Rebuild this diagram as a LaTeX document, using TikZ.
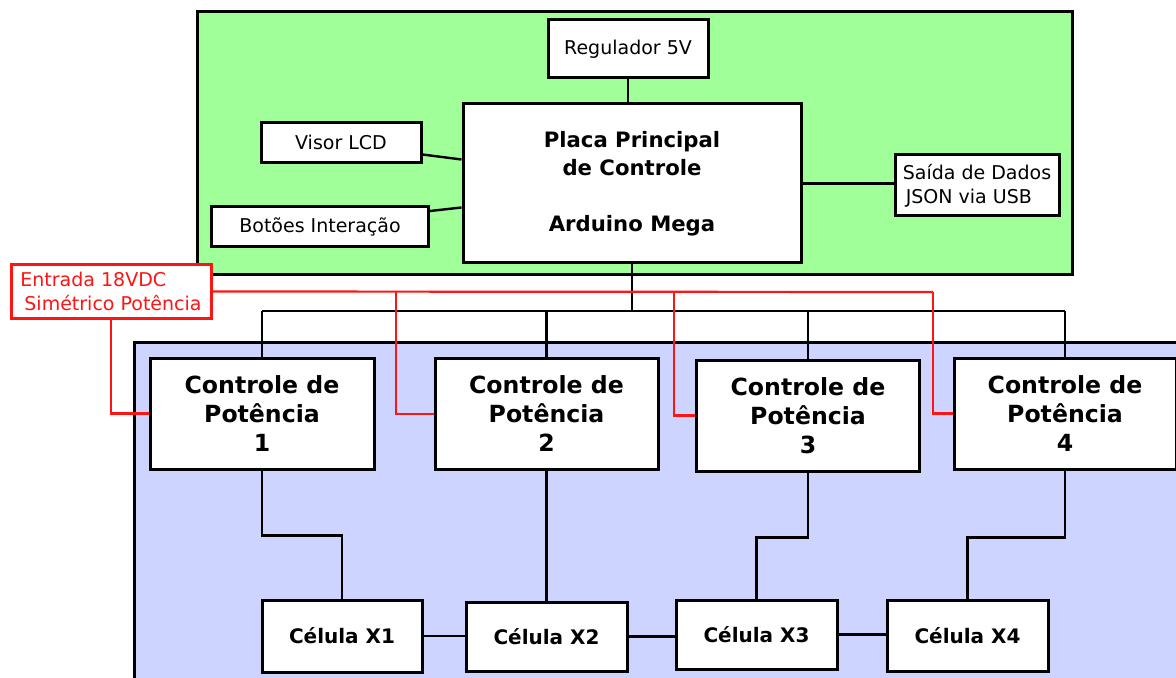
\documentclass[tikz,border=0pt]{standalone}
\usepackage{fontspec}
\setmainfont{DejaVu Sans}
\usepackage{tikz}
\usetikzlibrary{
  positioning,
  calc
}
\definecolor{pcGreen}{HTML}{A0FF98}
\definecolor{pcBlue}{HTML}{CCD4FF}
\definecolor{pcRed}{HTML}{FF1414}
\tikzset{
  pcnode/.style={
    draw, fill=white, line width=1.5pt, inner sep=0pt, align=center,
    font=\fontsize{9.5}{12}\selectfont
  },
  mainboard/.style={pcnode, font=\bfseries\fontsize{10.6}{14}\selectfont},
  powerctl/.style={pcnode, font=\bfseries\fontsize{11.8}{14.5}\selectfont},
  cell/.style={pcnode, font=\bfseries\fontsize{10}{12}\selectfont},
  inputbox/.style={pcnode, draw=pcRed, text=pcRed, align=left},
  zone/.style={draw, line width=1.5pt},
  wire/.style={line width=1.2pt, black},
  redwire/.style={line width=1.1pt, pcRed}
}

\begin{document}
\begin{tikzpicture}[x=0.5pt, y=-0.5pt]
  \useasboundingbox (0,0) rectangle (1176,678);
  \fill[white] (0,0) rectangle (1176,678);
  \draw[zone, fill=pcGreen] (197,12) rectangle (1072,275);
  \draw[zone, fill=pcBlue] (134,342) rectangle (1200,700);

  \node[pcnode, minimum width=80pt, minimum height=29pt] (reg) at (628,49) {Regulador 5V};
  \node[mainboard, minimum width=169pt, minimum height=79.5pt] (placa) at (632,183.5) {Placa Principal\\ de Controle\\[14pt] Arduino Mega};
  \node[pcnode, minimum width=80pt, minimum height=20pt] (visor) at (341,142.5) {Visor LCD};
  \node[pcnode, minimum width=108.5pt, minimum height=20pt] (botoes) at (320,227) {Botões Interação};
  \node[pcnode, align=left, minimum width=82pt, minimum height=30.5pt] (saida) at (977,185.5) {Saída de Dados\\\hspace*{1.5pt}JSON via USB};
  \node[inputbox, minimum width=100pt, minimum height=27pt] (entrada) at (111,291.5) {Entrada 18VDC\\\hspace*{2pt}Simétrico Potência};

  \node[powerctl, minimum width=112pt, minimum height=55.5pt] (ctl1) at (262,413.5) {Controle de\\Potência\\1};
  \node[powerctl, minimum width=111.5pt, minimum height=55.5pt] (ctl2) at (546.5,414) {Controle de\\Potência\\2};
  \node[powerctl, minimum width=111.5pt, minimum height=55.5pt] (ctl3) at (808,415.5) {Controle de\\Potência\\3};
  \node[powerctl, minimum width=111pt, minimum height=55.5pt] (ctl4) at (1065,413.5) {Controle de\\Potência\\4};

  \node[cell, minimum width=80pt, minimum height=36pt] (cell1) at (342,636) {Célula X1};
  \node[cell, minimum width=80.5pt, minimum height=34.5pt] (cell2) at (546.5,636.5) {Célula X2};
  \node[cell, minimum width=80.5pt, minimum height=34.5pt] (cell3) at (756.5,634.5) {Célula X3};
  \node[cell, minimum width=80.5pt, minimum height=35.5pt] (cell4) at (967.5,635.5) {Célula X4};

  \draw[wire] (reg.south) -- (reg.south |- placa.north);
  \draw[wire] ($(visor.east)+(0,12)$) -- ($(placa.west)+(0,-24)$);
  \draw[wire] ($(botoes.east)+(0,-16)$) -- ($(placa.west)+(0,24)$);
  \draw[wire] (placa.east) -- (placa.east -| saida.west);

  \coordinate (bus) at (0,311);
  \draw[wire] (placa.south) -- (placa.south |- bus);
  \draw[wire] (ctl1.north |- bus) -- (ctl4.north |- bus);
  \foreach \n in {1,...,4}
    \draw[wire] (ctl\n.north |- bus) -- (ctl\n.north);

  \draw[redwire] (entrada.east) -- (933,292);
  \draw[redwire] (entrada.south) |- (ctl1.west);
  \foreach \n/\x in {2/396,3/674,4/933}
    \draw[redwire] (\x,292) |- (ctl\n.west);

  \draw[wire] (ctl1.south) -- ++(0,65) -| (cell1.north);
  \draw[wire] (ctl2.south) -- (cell2.north);
  \draw[wire] (ctl3.south) -- ++(0,65) -| (cell3.north);
  \draw[wire] (ctl4.south) -- ++(0,67) -| (cell4.north);
  \foreach \a/\b in {1/2,2/3,3/4}
    \draw[wire] (cell\a.east) -- (cell\a.east -| cell\b.west);
\end{tikzpicture}
\end{document}
